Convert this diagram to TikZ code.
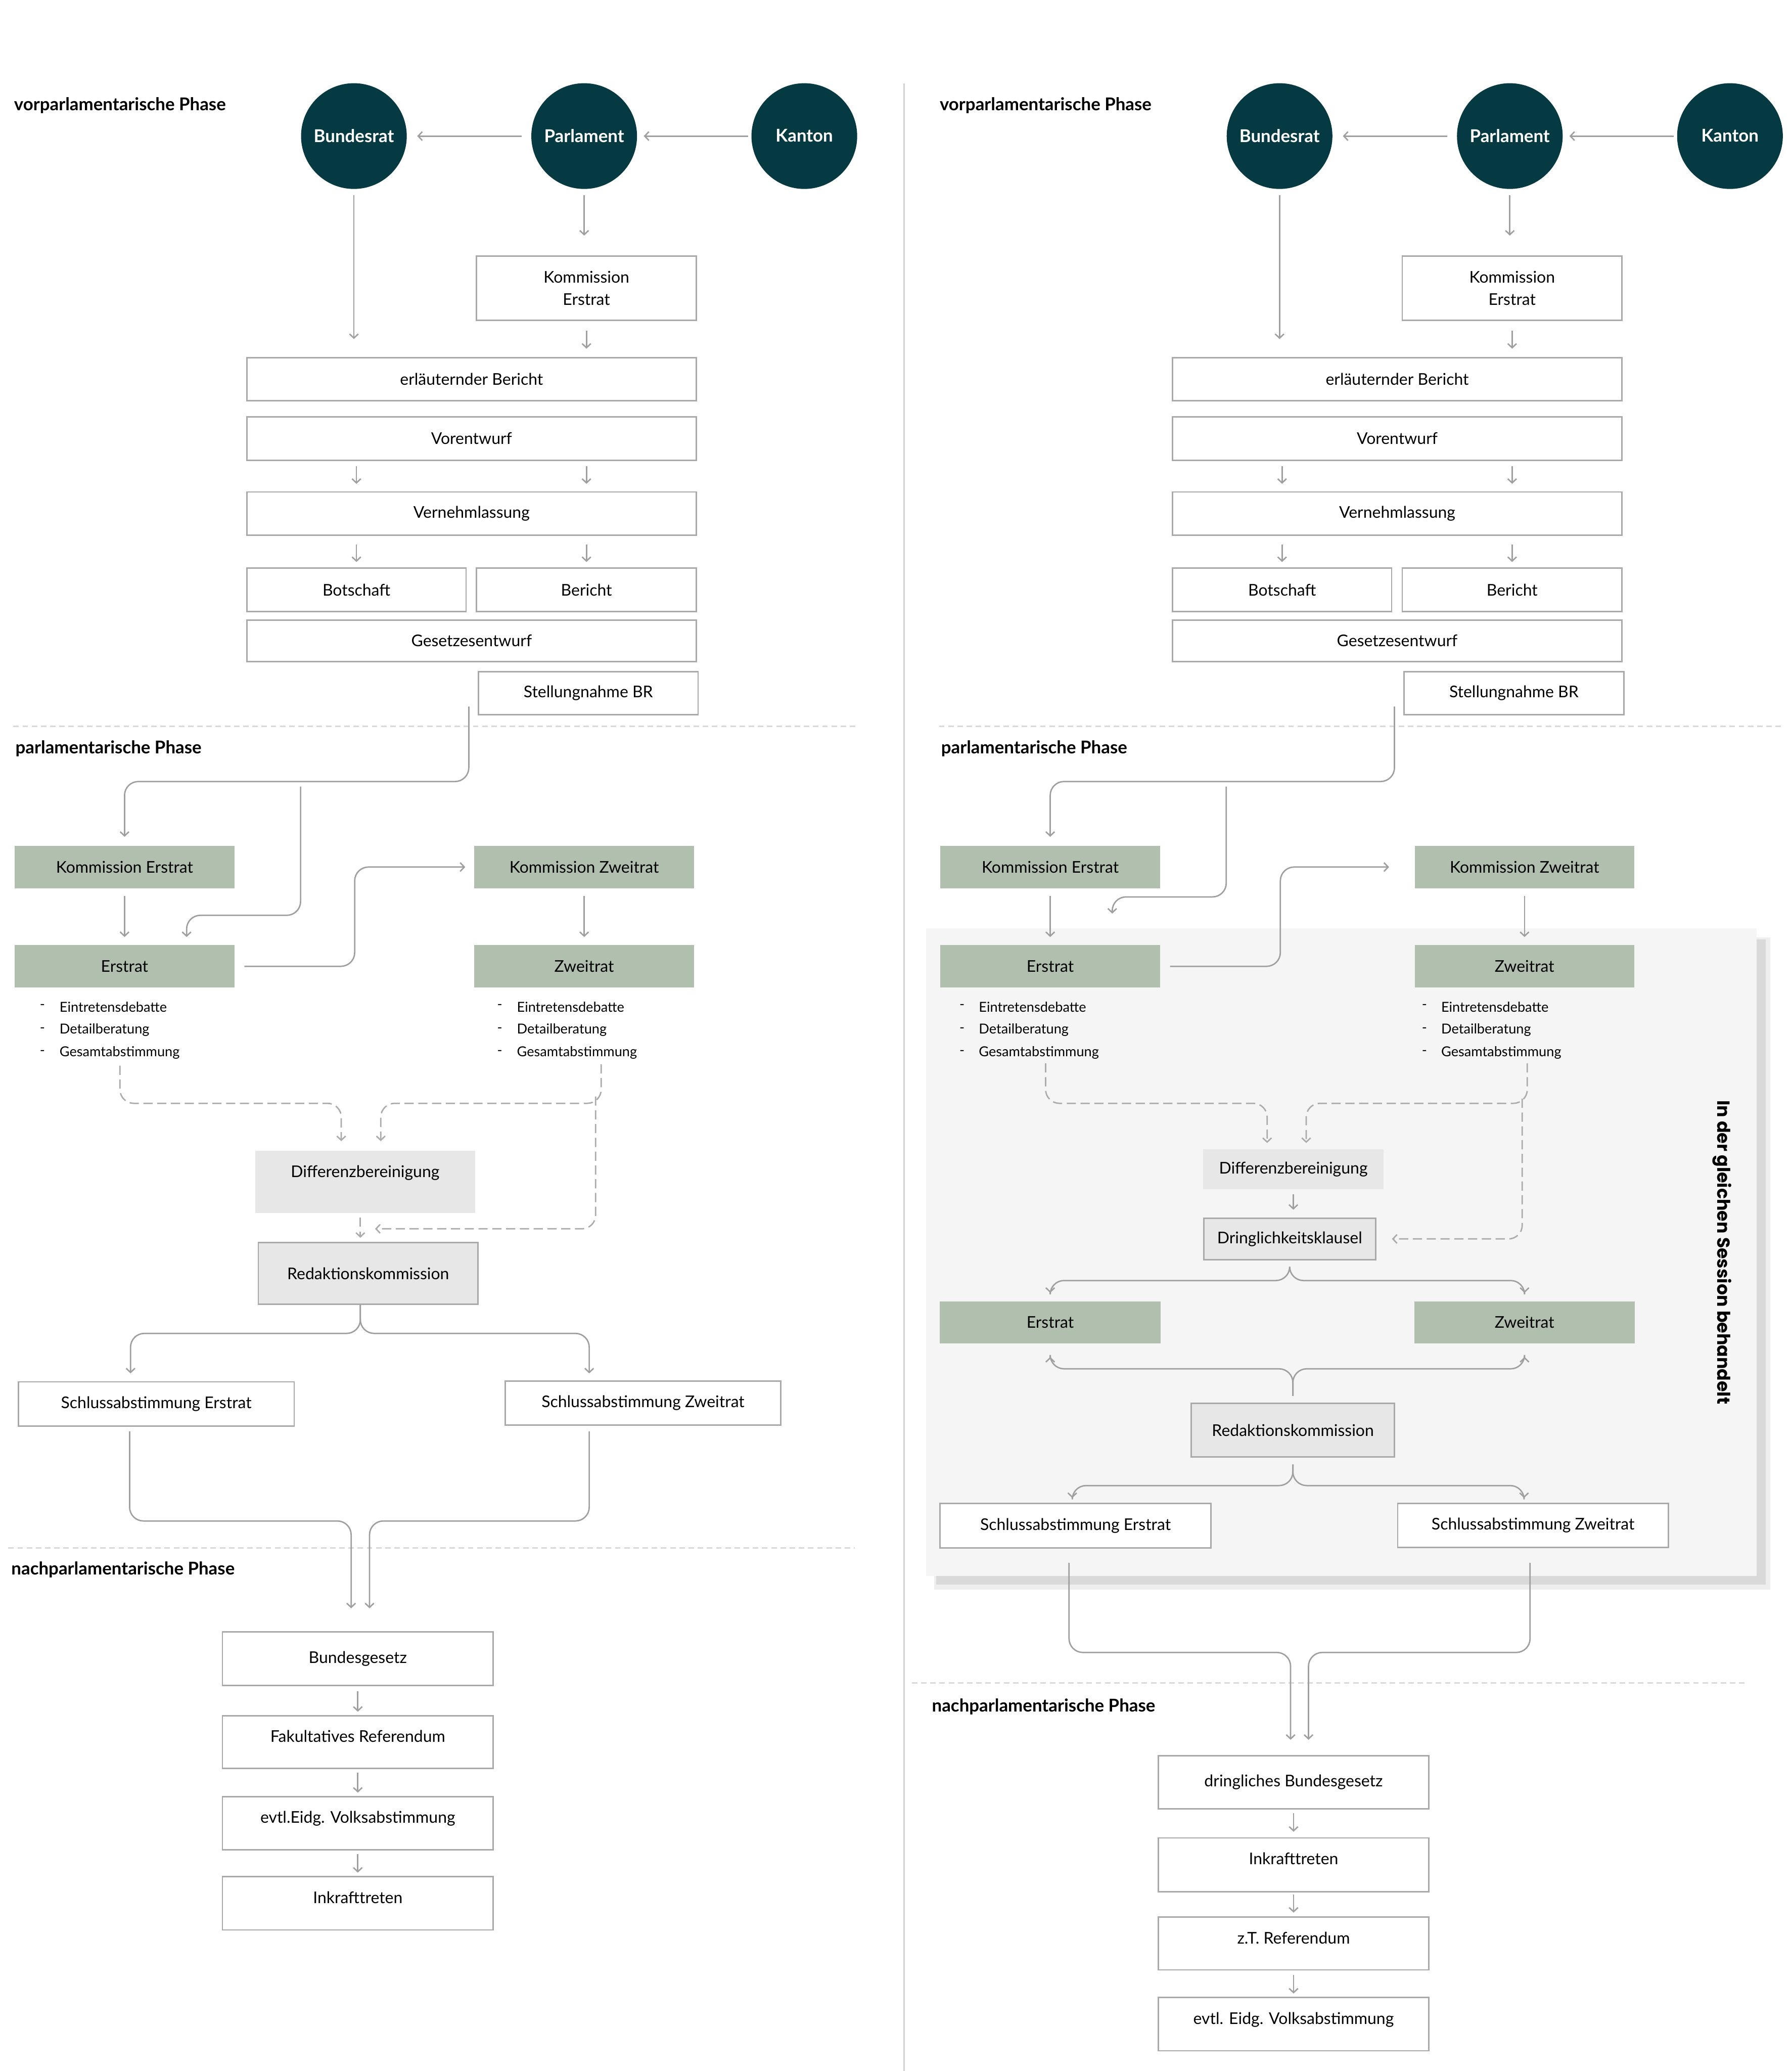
\documentclass[tikz,border=0pt]{standalone}
\usepackage{fontspec}
\setmainfont{Lato}
\newfontfamily\popfont{Poppins}
\usetikzlibrary{arrows.meta}

\definecolor{circfill}{HTML}{063A42}
\definecolor{ratgreen}{HTML}{B0BFAE}
\definecolor{boxgray}{HTML}{E7E7E7}
\definecolor{boxline}{HTML}{A9A9A9}
\definecolor{linegray}{HTML}{9F9F9F}
\definecolor{dashgray}{HTML}{ABABAB}
\definecolor{sepgray}{HTML}{D9D9D9}
\definecolor{divgray}{HTML}{D3D3D3}
\definecolor{panelgray}{HTML}{F5F5F5}
\definecolor{shadowgray}{HTML}{D9D9D9}

\begin{document}
\begin{tikzpicture}[
    font=\fontsize{10}{14}\selectfont,
    >={Straight Barb[length=0.09cm,width=0.19cm]},
    every node/.style={inner sep=0pt},
    rat/.style={circle, fill=circfill, text=white, minimum size=2.30cm, text depth=0.02cm, font=\fontsize{10.9}{12}\selectfont\bfseries},
    wbox/.style={draw=boxline, line width=0.03cm, fill=white, minimum height=0.94cm},
    gbox/.style={fill=ratgreen, minimum width=4.78cm, minimum height=0.92cm},
    dbox/.style={fill=boxgray, draw=boxline, line width=0.03cm},
    diffbox/.style={fill=boxgray},
    toptext/.style={inner ysep=0pt, text height=0.58cm, text depth=#1},
    phase/.style={anchor=west, font=\fontsize{10.9}{12}\selectfont\bfseries},
    listitem/.style={anchor=west, font=\fontsize{8.5}{10}\selectfont},
    conn/.style={draw=linegray, line width=0.03cm, rounded corners=0.3cm},
    dconn/.style={conn, draw=dashgray, dash pattern=on 0.2cm off 0.1cm},
    sep/.style={draw=sepgray, line width=0.03cm, dash pattern=on 0.12cm off 0.08cm},
]
    \useasboundingbox (0,0) rectangle (38.98,-45.05);

    % Divider between the two procedures
    \draw[divgray, line width=0.04cm] (19.67,-1.82) -- (19.67,-45.05);

    % Session panel (right) with shadow
    \fill[shadowgray!45] (20.33,-20.39) rectangle (38.52,-34.58);
    \fill[shadowgray] (20.37,-20.43) rectangle (38.42,-34.47);
    \fill[panelgray] (20.15,-20.19) rectangle (38.22,-34.28);

    % Common upper part, ordinary (L) and urgent (R) procedure
    \foreach \s/\p/\h/\g/\k/\q in {0/L/-19.91/0.17cm/12.71/0.19cm, 20.14/R/-19.51/0.68cm/13.03/0.55cm}{
    \begin{scope}[shift={(\s,0)}]
        \node[phase] (\p-vor) at (0.30,-2.29) {vorparlamentarische Phase};
        \node[rat] (\p-bund) at (7.70,-2.96) {Bundesrat};
        \node[rat] (\p-parl) at (12.71,-2.96) {Parlament};
        \node[rat] (\p-kant) at (17.50,-2.96) {Kanton};

        \node[wbox, minimum width=4.78cm, minimum height=1.40cm, align=center] (\p-kom) at (12.76,-6.27) {Kommission\\Erstrat};
        \node[wbox, minimum width=9.78cm] (\p-erl) at (10.26,-8.25) {erläuternder Bericht};
        \node[wbox, minimum width=9.78cm] (\p-ve) at (10.26,-9.54) {Vorentwurf};
        \node[wbox, minimum width=9.78cm] (\p-vn) at (10.26,-11.17) {Vernehmlassung};
        \node[wbox, minimum width=4.77cm] (\p-bot) at (7.755,-12.83) {Botschaft};
        \node[wbox, minimum width=4.78cm] (\p-ber) at (12.76,-12.83) {Bericht};
        \node[wbox, minimum width=9.78cm, minimum height=0.90cm] (\p-ge) at (10.26,-13.94) {Gesetzesentwurf};
        \node[wbox, minimum width=4.78cm] (\p-st) at (12.80,-15.08) {Stellungnahme BR};

        \draw[conn,->,shorten <=0.20cm,shorten >=0.22cm] (\p-parl) -- (\p-bund);
        \draw[conn,->,shorten <=0.07cm,shorten >=0.14cm] (\p-kant) -- (\p-parl);
        \draw[conn,->,shorten <=0.13cm,shorten >=0.39cm] (\p-bund) -- (\p-bund |- \p-erl.north);
        \draw[conn,->,shorten <=0.13cm,shorten >=0.43cm] (\p-parl) -- (\p-parl |- \p-kom.north);
        \draw[conn,->,shorten <=0.21cm,shorten >=0.18cm] (\p-kom) -- (\p-kom |- \p-erl.north);
        \draw[conn,->,shorten <=0.11cm,shorten >=0.16cm] (\p-ve.south -| \p-bot) -- (\p-vn.north -| \p-bot);
        \draw[conn,->,shorten <=0.11cm,shorten >=0.16cm] (\p-ve.south -| \p-ber) -- (\p-vn.north -| \p-ber);
        \draw[conn,->,shorten <=0.19cm,shorten >=0.12cm] (\p-vn.south -| \p-bot) -- (\p-bot);
        \draw[conn,->,shorten <=0.19cm,shorten >=0.12cm] (\p-vn.south -| \p-ber) -- (\p-ber);

        \draw[sep] (0.29,-15.80) -- (18.64,-15.80);
        \node[phase] (\p-par) at (0.33,-16.28) {parlamentarische Phase};

        \node[gbox] (\p-ke) at (2.71,-18.86) {Kommission Erstrat};
        \node[gbox] (\p-kz) at (\k,-18.86) {Kommission Zweitrat};
        \node[gbox] (\p-er) at (2.71,-21.02) {Erstrat};
        \node[gbox] (\p-zr) at (\k,-21.02) {Zweitrat};

        \coordinate (\p-s0) at (10.20,-15.37);
        \coordinate (\p-b0) at (6.54,-17.11);
        \draw[conn,->,shorten >=0.19cm] (\p-s0) -- ++(0,-1.63) -| (\p-ke);
        \draw[conn,->,shorten >=\g] (\p-b0) |- (4.06,\h) -- (\p-er.north -| 4.06,0);
        \draw[conn,->,shorten <=0.16cm,shorten >=0.17cm] (\p-ke) -- (\p-er);
        \draw[conn,->,shorten <=0.16cm,shorten >=0.17cm] (\p-kz) -- (\p-zr);
        \draw[conn,->,shorten <=0.21cm,shorten >=\q] (\p-er.east) -- ++(2.61,0) |- (\p-kz.west);
    \end{scope}
    }

    % Debate steps below each council
    \foreach \d/\x/\n in {0.86/1.29/le, 10.81/11.24/lz, 20.87/21.29/re, 30.93/31.35/rz}{
        \foreach \w [count=\i] in {Eintretensdebatte,Detailberatung,Gesamtabstimmung}{
            \node[listitem] (\n-d\i) at (\d,-21.40-0.50*\i) {-};
            \node[listitem] (\n\i) at (\x,-21.40-0.50*\i) {\w};
        }
    }

    % Ordinary procedure: Differenzbereinigung
    \node[diffbox, minimum width=4.79cm, toptext=0.78cm] (diff) at (7.945,-25.71) {Differenzbereinigung};
    \node[dbox, minimum width=4.78cm, minimum height=1.34cm] (red) at (8.01,-27.70) {Redaktionskommission};
    \coordinate (d1) at (2.61,-23.18);
    \coordinate (d2) at (13.08,-23.15);
    \coordinate (d3) at (12.96,-23.85);
    \coordinate (gap) at (7.84,-26.73);
    \draw[dconn,->,shorten >=0.20cm] (d1) -- ++(0,-0.82) -| ([xshift=-0.52cm]diff.north);
    \draw[dconn,->,shorten >=0.20cm] (d2) -- ++(0,-0.85) -| ([xshift=0.34cm]diff.north);
    \draw[dconn,->,shorten >=0.32cm] (d3) |- (gap);
    \draw[dconn,->,shorten <=0.09cm,shorten >=0.09cm] (diff.south -| gap) -- (red.north -| gap);

    \node[wbox, minimum width=6.00cm, minimum height=0.96cm] (se) at (3.40,-30.54) {Schlussabstimmung Erstrat};
    \node[wbox, minimum width=6.00cm, minimum height=0.96cm] (sz) at (13.99,-30.52) {Schlussabstimmung Zweitrat};
    \draw[conn,->,shorten >=0.17cm] (red.south -| gap) -- ++(0,-0.62) -| ([xshift=-0.56cm]se.north);
    \draw[conn,->,shorten >=0.15cm] (red.south -| gap) -- ++(0,-0.62) -| ([xshift=-1.17cm]sz.north);

    % Ordinary procedure: nachparlamentarische Phase
    \draw[sep] (0.18,-33.67) -- (18.60,-33.67);
    \node[phase] (lnach) at (0.24,-34.14) {nachparlamentarische Phase};
    \node[wbox, minimum width=5.89cm, minimum height=1.16cm] (bg) at (7.785,-36.08) {Bundesgesetz};
    \node[wbox, minimum width=5.89cm, toptext=0.57cm] (fak) at (7.785,-37.895) {Fakultatives Referendum};
    \node[wbox, minimum width=5.89cm, toptext=0.58cm] (evtl) at (7.785,-39.66) {evtl.Eidg. Volksabstimmung};
    \node[wbox, minimum width=5.89cm, toptext=0.58cm] (ink) at (7.785,-41.40) {Inkrafttreten};
    \draw[conn,->,shorten <=0.10cm,shorten >=0.50cm] ([xshift=-0.58cm]se.south) -- ++(0,-2.05) -| ([xshift=-0.145cm]bg.north);
    \draw[conn,->,shorten <=0.12cm,shorten >=0.50cm] ([xshift=-1.17cm]sz.south) -- ++(0,-2.07) -| ([xshift=0.255cm]bg.north);
    \draw[conn,->,shorten <=0.12cm,shorten >=0.07cm] (bg) -- (fak);
    \draw[conn,->,shorten <=0.08cm,shorten >=0.07cm] (fak) -- (evtl);
    \draw[conn,->,shorten <=0.08cm,shorten >=0.07cm] (evtl) -- (ink);

    % Urgent procedure: same session
    \node[diffbox, minimum width=3.92cm, minimum height=0.87cm] (rdiff) at (28.14,-25.435) {Differenzbereinigung};
    \node[dbox, minimum width=3.74cm, minimum height=0.90cm] (rdr) at (28.06,-26.95) {Dringlichkeitsklausel};
    \coordinate (rd1) at (22.75,-23.13);
    \coordinate (rd2) at (33.23,-23.13);
    \coordinate (rd3) at (33.12,-23.90);
    \draw[dconn,->,shorten >=0.13cm] (rd1) -- ++(0,-0.87) -| ([xshift=-0.57cm]rdiff.north);
    \draw[dconn,->,shorten >=0.13cm] (rd2) -- ++(0,-0.87) -| ([xshift=0.28cm]rdiff.north);
    \draw[dconn,->,shorten >=0.34cm] (rd3) |- (rdr.east);
    \draw[conn,->,shorten <=0.10cm,shorten >=0.17cm] (rdiff) -- (rdiff |- rdr.north);

    \node[gbox, minimum width=4.80cm, minimum height=0.91cm] (rer2) at (22.85,-28.765) {Erstrat};
    \node[gbox, minimum width=4.80cm, minimum height=0.91cm] (rzr2) at (33.17,-28.765) {Zweitrat};
    \node[dbox, minimum width=4.42cm, minimum height=1.16cm] (rred) at (28.13,-31.11) {Redaktionskommission};
    \draw[conn,->,shorten >=0.18cm] ([yshift=-0.15cm]rdr.south) -- ++(0,-0.29) -| (rer2);
    \draw[conn,->,shorten >=0.18cm] ([yshift=-0.15cm]rdr.south) -- ++(0,-0.29) -| (rzr2);
    \draw[conn,->,shorten >=0.29cm] ([yshift=0.15cm]rred.north) -- ++(0,0.59) -| (rer2);
    \draw[conn,->,shorten >=0.29cm] ([yshift=0.15cm]rred.north) -- ++(0,0.59) -| (rzr2);

    \node[wbox, minimum width=5.90cm, minimum height=0.97cm] (rse) at (23.40,-33.185) {Schlussabstimmung Erstrat};
    \node[wbox, minimum width=5.89cm, minimum height=0.96cm] (rsz) at (33.355,-33.18) {Schlussabstimmung Zweitrat};
    \draw[conn,->,shorten >=0.10cm] ([yshift=-0.15cm]rred.south) -- ++(0,-0.46) -| ([xshift=-0.07cm]rse.north);
    \draw[conn,->,shorten >=0.10cm] ([yshift=-0.15cm]rred.south) -- ++(0,-0.46) -| ([xshift=-0.195cm]rsz.north);

    \node[rotate=-90, font=\popfont\bfseries\fontsize{10.9}{12}\selectfont] (sess) at (37.47,-27.24) {In der gleichen Session behandelt};

    % Urgent procedure: nachparlamentarische Phase
    \draw[sep] (19.84,-36.61) -- (37.99,-36.61);
    \node[phase] (rnach) at (20.27,-37.13) {nachparlamentarische Phase};
    \node[wbox, minimum width=5.89cm, minimum height=1.16cm] (dbg) at (28.145,-38.77) {dringliches Bundesgesetz};
    \node[wbox, minimum width=5.89cm, toptext=0.59cm] (rink) at (28.145,-40.565) {Inkrafttreten};
    \node[wbox, minimum width=5.89cm, toptext=0.57cm] (rzt) at (28.145,-42.275) {z.T. Referendum};
    \node[wbox, minimum width=5.89cm, toptext=0.58cm] (revt) at (28.145,-44.03) {evtl. Eidg. Volksabstimmung};
    \draw[conn,->,shorten <=0.31cm,shorten >=0.33cm] ([xshift=-0.14cm]rse.south) -- ++(0,-2.26) -| ([xshift=-0.065cm]dbg.north);
    \draw[conn,->,shorten <=0.32cm,shorten >=0.33cm] ([xshift=-0.065cm]rsz.south) -- ++(0,-2.27) -| ([xshift=0.325cm]dbg.north);
    \draw[conn,->,shorten <=0.08cm,shorten >=0.12cm] (dbg) -- (rink);
    \draw[conn,->,shorten <=0.05cm,shorten >=0.08cm] (rink) -- (rzt);
    \draw[conn,->,shorten <=0.09cm,shorten >=0.07cm] (rzt) -- (revt);
\end{tikzpicture}
\end{document}
